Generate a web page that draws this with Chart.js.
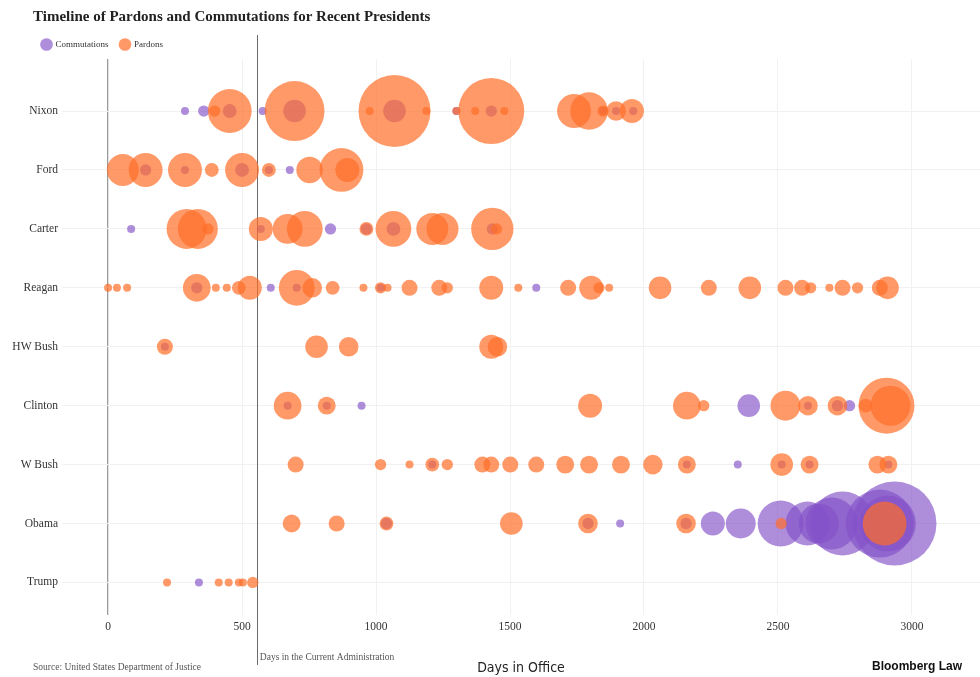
<!DOCTYPE html>
<html>
<head>
<meta charset="utf-8">
<script src="https://cdn.jsdelivr.net/npm/chart.js@4.4.1/dist/chart.umd.min.js"></script>
<style>
  html, body { margin: 0; padding: 0; background: #fff; }
  #wrap { width: 980px; height: 677px; }
</style>
</head>
<body>
<div id="wrap"><canvas id="grafico"></canvas></div>
<script>
const presidents = ['Nixon', 'Ford', 'Carter', 'Reagan', 'HW Bush', 'Clinton', 'W Bush', 'Obama', 'Trump']
const dayTicks = [0, 500, 1000, 1500, 2000, 2500, 3000]
const currentAdminDays = 555

// pardons: day in office of each grant date, one list per president (same order as presidents)
const pardonDays = [
  [398, 454, 696, 976, 1069, 1188, 1300, 1370, 1430, 1479, 1739, 1795, 1847, 1896, 1955],
  [55, 140, 287, 387, 500, 600, 752, 871, 893],
  [293, 335, 373, 570, 670, 734, 964, 1065, 1210, 1248, 1434, 1450],
  [0, 33, 71, 331, 402, 443, 488, 529, 704, 762, 838, 953, 1017, 1043, 1125, 1236, 1266, 1430, 1531, 1717, 1803, 1832, 1870, 2060, 2242, 2395, 2528, 2590, 2622, 2692, 2741, 2797, 2880, 2909],
  [212, 778, 898, 1430, 1453],
  [670, 816, 1799, 2160, 2223, 2528, 2612, 2722, 2827, 2905, 2920],
  [700, 1017, 1125, 1210, 1266, 1397, 1430, 1501, 1598, 1706, 1795, 1914, 2033, 2160, 2514, 2618, 2871, 2912],
  [685, 853, 1039, 1505, 1791, 2157, 2512, 2898],
  [220, 413, 450, 488, 503, 540]
]
// number of pardons granted that day
const pardonCounts = [
  [2, 30, 56, 1, 81, 1, 1, 1, 68, 1, 18, 22, 2, 6, 9],
  [16, 18, 18, 3, 18, 3, 11, 30, 9],
  [25, 25, 2, 9, 14, 20, 3, 20, 16, 16, 28, 2],
  [1, 1, 1, 12, 1, 1, 3, 9, 20, 6, 3, 1, 2, 1, 4, 4, 2, 9, 1, 4, 9, 2, 1, 8, 4, 8, 4, 4, 2, 1, 4, 2, 4, 8],
  [4, 8, 6, 9, 6],
  [12, 5, 9, 12, 2, 14, 6, 6, 3, 49, 25],
  [4, 2, 1, 3, 2, 4, 4, 4, 4, 5, 5, 5, 6, 5, 8, 5, 5, 5],
  [5, 4, 3, 8, 6, 6, 2, 30],
  [1, 1, 1, 1, 1, 2]
]

const commutationDays = [
  [287, 357, 454, 577, 696, 1069, 1300, 1430, 1847, 1896, 1960],
  [140, 287, 500, 600, 678],
  [86, 570, 830, 964, 1065, 1434],
  [331, 607, 704, 1017, 1598],
  [212],
  [670, 816, 946, 2391, 2612, 2722, 2767],
  [1210, 2160, 2350, 2514, 2618, 2912],
  [1039, 1791, 1911, 2157, 2257, 2361, 2510, 2610, 2652, 2700, 2741, 2880, 2910, 2935],
  [339]
]
const commutationCounts = [
  [1, 2, 3, 1, 8, 8, 1, 2, 1, 1, 1],
  [2, 1, 3, 1, 1],
  [1, 1, 2, 2, 3, 2],
  [2, 1, 1, 1, 1],
  [1],
  [1, 1, 1, 8, 1, 2, 2],
  [1, 1, 1, 1, 1, 1],
  [2, 2, 1, 2, 9, 14, 33, 30, 25, 42, 64, 72, 49, 110],
  [1]
]

const serif = "'Liberation Serif', 'DejaVu Serif', serif"

function toBubbles(days, counts) {
  const pts = []
  days.forEach((lista, row) => {
    lista.forEach((d, i) => pts.push({ x: d, y: row, r: 4 * Math.sqrt(counts[row][i]) }))
  })
  return pts
}

const extras = {
  id: 'extras',
  afterLayout(chart) {
    // legend sits a bit right of the axis labels
    chart.legend.left += 30
    chart.legend.right += 30
  },
  beforeDatasetsDraw(chart) {
    const { ctx, scales: { x } } = chart
    const px = Math.round(x.getPixelForValue(currentAdminDays)) + 0.5
    ctx.save()
    ctx.strokeStyle = '#6b6b6b'
    ctx.lineWidth = 1
    ctx.beginPath()
    ctx.moveTo(px, 35)
    ctx.lineTo(px, 665)
    ctx.stroke()
    ctx.restore()
  },
  afterDraw(chart) {
    const { ctx, scales: { x } } = chart
    const px = x.getPixelForValue(currentAdminDays)
    ctx.save()
    ctx.textBaseline = 'middle'
    ctx.fillStyle = '#222'
    ctx.font = `bold 15px ${serif}`
    ctx.fillText('Timeline of Pardons and Commutations for Recent Presidents', 33, 17)
    ctx.fillStyle = '#555'
    ctx.font = `9.5px ${serif}`
    ctx.fillText('Source: United States Department of Justice', 33, 667)
    ctx.fillText('Days in the Current Administration', px + 3, 657)
    ctx.fillStyle = '#111'
    ctx.font = "bold 12px 'Liberation Sans Narrow', 'Liberation Sans', sans-serif"
    ctx.fillText('Bloomberg Law', 872, 667)
    ctx.restore()
  }
}

new Chart(document.getElementById('grafico'), {
  type: 'bubble',
  data: {
    datasets: [
      {
        label: 'Commutations',
        data: toBubbles(commutationDays, commutationCounts),
        backgroundColor: 'rgba(130, 80, 200, 0.65)',
        borderWidth: 0,
        order: 1
      },
      {
        label: 'Pardons',
        data: toBubbles(pardonDays, pardonCounts),
        backgroundColor: 'rgba(255, 110, 40, 0.7)',
        borderWidth: 0,
        order: 0
      }
    ]
  },
  options: {
    responsive: true,
    maintainAspectRatio: false,
    animation: false,
    clip: false,
    layout: { autoPadding: false, padding: { top: 28, left: 0, right: 0, bottom: 0 } },
    plugins: {
      tooltip: { enabled: false },
      legend: {
        position: 'top',
        align: 'start',
        labels: {
          usePointStyle: true,
          pointStyle: 'circle',
          padding: 12,
          color: '#333',
          font: { family: serif, size: 9 },
          sort: (a, b) => a.datasetIndex - b.datasetIndex
        }
      }
    },
    scales: {
      x: {
        type: 'linear',
        min: -172,
        max: 3254,
        afterBuildTicks: s => { s.ticks = dayTicks.map(v => ({ value: v })) },
        grid: {
          color: c => (c.tick && c.tick.value === 0 ? '#9a9a9a' : '#f1f1f1'),
          lineWidth: c => (c.tick && c.tick.value === 0 ? 1.3 : 1),
          drawTicks: false
        },
        border: { display: false },
        ticks: {
          padding: 5,
          color: '#333',
          font: { family: serif, size: 11.5 },
          callback: v => String(v)
        },
        title: {
          display: true,
          text: 'Days in Office',
          color: '#222',
          font: { family: "'Liberation Sans Narrow', 'DejaVu Sans Condensed', sans-serif", size: 14 },
          padding: { top: 21, bottom: 0 }
        }
      },
      y: {
        type: 'linear',
        reverse: true,
        min: -0.883,
        max: 8.559,
        afterBuildTicks: s => { s.ticks = presidents.map((_, i) => ({ value: i })) },
        afterFit: s => { s.width = 62 },
        grid: { color: '#f1f1f1', drawTicks: false },
        border: { display: false },
        ticks: {
          padding: 4,
          color: '#333',
          font: { family: serif, size: 11.5 },
          callback: v => presidents[v]
        }
      }
    }
  },
  plugins: [extras]
})
</script>
</body>
</html>
